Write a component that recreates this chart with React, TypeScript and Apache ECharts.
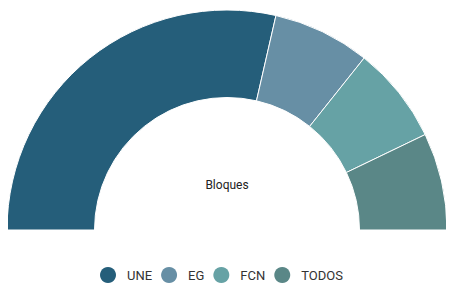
import React, { useEffect, useRef } from "react";
import * as echarts from "echarts";

const categories = ["UNE", "EG", "FCN", "TODOS"];
const values = [4, 1, 1, 1];
const colors = ["#255E7A", "#678FA5", "#66A2A5", "#5A8787"];

export default function App() {
  const ref = useRef<HTMLDivElement>(null);
  useEffect(() => {
    if (!ref.current) return;
    const chart = echarts.init(ref.current, undefined, { renderer: "svg" });
    chart.setOption({
      animation: false,
      color: colors,
      legend: {
        data: categories,
        top: 262,
        left: 95,
        icon: "circle",
        itemWidth: 16,
        itemHeight: 16,
        itemGap: 9,
        itemStyle: { borderWidth: 0 },
        textStyle: {
          fontFamily: "Roboto",
          fontSize: 13,
          color: "#333",
          padding: [0, 0, 0, 6],
        },
      },
      graphic: [
        {
          type: "text",
          x: 227,
          y: 185,
          style: {
            text: "Bloques",
            fontFamily: "Roboto",
            fontSize: 12,
            fill: "#222",
            textAlign: "center",
            textVerticalAlign: "middle",
          },
        },
      ],
      series: [
        {
          type: "pie",
          center: [227, 230],
          radius: [132.5, 220],
          startAngle: 180,
          endAngle: 360,
          clockwise: true,
          label: { show: false },
          labelLine: { show: false },
          itemStyle: { borderColor: "#fff", borderWidth: 1 },
          data: categories.map((c, i) => ({ name: c, value: values[i] })),
        },
      ],
    });
    return () => chart.dispose();
  }, []);
  return <div ref={ref} style={{ width: 454, height: 292, margin: -8 }} />;
}
